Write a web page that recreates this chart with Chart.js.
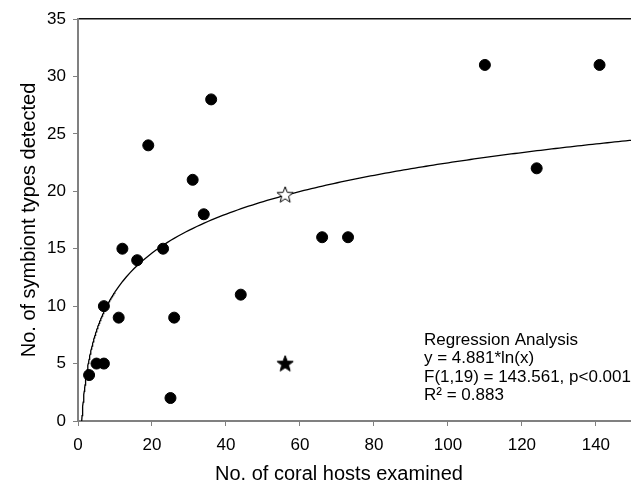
<!DOCTYPE html>
<html>
<head>
<meta charset="utf-8">
<script src="https://cdn.jsdelivr.net/npm/chart.js@4.4.1/dist/chart.umd.min.js"></script>
<style>
  html, body { margin: 0; padding: 0; background: #fff; }
  #wrap { width: 631px; height: 488px; }
</style>
</head>
<body>
<div id="wrap"><canvas id="myChart" width="631" height="488"></canvas></div>
<script>
// observed hosts / symbiont types
var hostsExamined = [3, 5, 7, 7, 11, 12, 16, 19, 23, 25, 26, 31, 34, 36, 44, 66, 73, 110, 124, 141];
var symbiontTypes = [4, 5, 5, 10, 9, 15, 14, 24, 15, 2, 9, 21, 18, 28, 11, 16, 16, 31, 22, 31];

// the two star points
var starHosts = [56];
var starObserved = [5];
var starPredicted = [19.7];

// regression y = a*ln(x)
var fitSlope = 4.881;
var fitFrom = 1;
var fitTo = 149.5;

var xTicks = [0, 20, 40, 60, 80, 100, 120, 140];
var yTicks = [0, 5, 10, 15, 20, 25, 30, 35];

var xTitle = 'No. of coral hosts examined';
var yTitle = 'No. of symbiont types detected';
var statsLines = ['Regression Analysis', 'y = 4.881*ln(x)', 'F(1,19) = 143.561, p<0.001', 'R\u00b2 = 0.883'];

document.addEventListener('DOMContentLoaded', function () {
    var fontName = '"Liberation Sans", Arial, sans-serif';

    function makeStar(fill) {
        var c = document.createElement('canvas');
        c.width = 20;
        c.height = 20;
        var g = c.getContext('2d');
        g.beginPath();
        for (var i = 0; i < 10; i++) {
            var r = i % 2 === 0 ? 8.5 : 3.6;
            var a = -Math.PI / 2 + i * Math.PI / 5;
            var px = 10 + r * Math.cos(a);
            var py = 10.5 + r * Math.sin(a);
            if (i === 0) g.moveTo(px, py); else g.lineTo(px, py);
        }
        g.closePath();
        g.fillStyle = fill;
        g.fill();
        g.lineWidth = 1;
        g.strokeStyle = '#000';
        g.stroke();
        return c;
    }

    var dots = hostsExamined.map(function (h, i) { return { x: h, y: symbiontTypes[i] }; });

    var curve = [];
    var xv = fitFrom;
    while (xv < fitTo) {
        curve.push({ x: xv, y: fitSlope * Math.log(xv) });
        xv += xv < 10 ? 0.1 : 1;
    }
    curve.push({ x: fitTo, y: fitSlope * Math.log(fitTo) });

    // stats box + x title (title sits left of the area centre in the original)
    var extraText = {
        id: 'extraText',
        afterDraw: function (chart) {
            var ctx = chart.ctx;
            var area = chart.chartArea;
            ctx.save();
            ctx.fillStyle = '#000';
            ctx.font = '17px ' + fontName;
            ctx.textBaseline = 'alphabetic';
            ctx.textAlign = 'left';
            for (var i = 0; i < statsLines.length; i++) {
                ctx.fillText(statsLines[i], area.left + 346, area.bottom - 76 + i * 18.3);
            }
            ctx.font = '20px ' + fontName;
            ctx.textAlign = 'center';
            ctx.textBaseline = 'middle';
            ctx.fillText(xTitle, area.left + 261, area.bottom + 53);
            ctx.restore();
        }
    };

    var ctx = document.getElementById('myChart').getContext('2d');
    var myChart = new Chart(ctx, {
        type: 'scatter',
        data: {
            datasets: [{
                type: 'line',
                data: curve,
                borderColor: '#000',
                borderWidth: 1.3,
                pointRadius: 0,
                fill: false,
                tension: 0,
                order: 3
            }, {
                data: dots,
                backgroundColor: '#000',
                borderColor: '#000',
                pointRadius: 5.5,
                order: 2
            }, {
                data: starHosts.map(function (h, i) { return { x: h, y: starPredicted[i] }; }),
                pointStyle: makeStar('#fff'),
                order: 1
            }, {
                data: starHosts.map(function (h, i) { return { x: h, y: starObserved[i] }; }),
                pointStyle: makeStar('#000'),
                order: 0
            }]
        },
        options: {
            responsive: false,
            animation: false,
            layout: { autoPadding: false, padding: { top: 19, right: 0, left: 0, bottom: 0 } },
            plugins: {
                tooltip: { enabled: false },
                legend: { display: false }
            },
            scales: {
                x: {
                    type: 'linear',
                    position: 'bottom',
                    min: 0,
                    max: fitTo,
                    afterBuildTicks: function (scale) {
                        scale.ticks = xTicks.map(function (v) { return { value: v }; });
                    },
                    afterFit: function (scale) {
                        scale.height = 67;
                        scale.paddingLeft = 0;
                        scale.paddingRight = 0;
                    },
                    grid: { drawOnChartArea: false, tickLength: 5, color: '#808080', tickColor: '#808080' },
                    border: { color: '#808080', width: 2 },
                    ticks: { color: '#000', padding: 9, font: { family: fontName, size: 17 } },
                    title: { display: false }
                },
                xTop: {
                    type: 'linear',
                    position: 'top',
                    min: 0,
                    max: fitTo,
                    afterFit: function (scale) {
                        scale.height = 0;
                        scale.paddingLeft = 0;
                        scale.paddingRight = 0;
                    },
                    grid: { display: false, drawTicks: false },
                    border: { color: '#111', width: 1.5 },
                    ticks: { display: false }
                },
                y: {
                    min: 0,
                    max: 35,
                    afterBuildTicks: function (scale) {
                        scale.ticks = yTicks.map(function (v) { return { value: v }; });
                    },
                    afterFit: function (scale) { scale.width = 78; },
                    grid: { drawOnChartArea: false, tickLength: 5, color: '#808080', tickColor: '#808080' },
                    border: { color: '#808080', width: 2 },
                    ticks: { color: '#000', padding: 7, font: { family: fontName, size: 17 } },
                    title: {
                        display: true,
                        text: yTitle,
                        color: '#000',
                        padding: { top: 17, bottom: 0 },
                        font: { family: fontName, size: 20 }
                    }
                }
            }
        },
        plugins: [extraText]
    });
});
</script>
</body>
</html>
